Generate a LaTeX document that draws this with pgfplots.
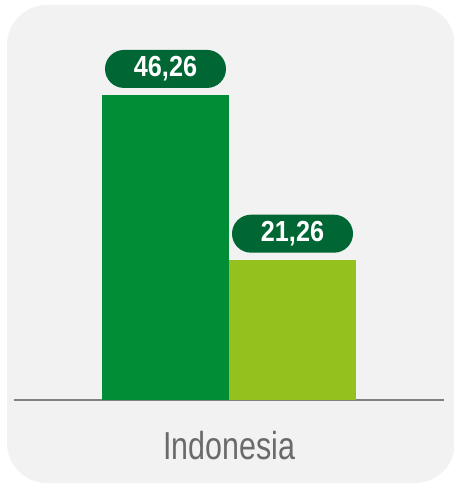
\documentclass[border=0pt]{standalone}
\usepackage{pgfplots}
\pgfplotsset{compat=1.18}
\usepackage{fontspec}
\setmainfont{Liberation Sans}
\newfontfamily\numfont{Liberation Sans}[FakeStretch=0.87]
\newfontfamily\labfont{Liberation Sans}[FakeStretch=0.78]
\definecolor{bg}{HTML}{F2F2F2}
\definecolor{darkbar}{HTML}{008D36}
\definecolor{lightbar}{HTML}{95C11F}
\definecolor{boxgreen}{HTML}{006633}
\definecolor{basegray}{HTML}{808080}
\definecolor{labgray}{HTML}{6A6A6A}
\begin{document}
\begin{tikzpicture}
\useasboundingbox (-14pt,-85pt) rectangle (440pt,400pt);
\fill[bg, rounded corners=40pt] (-7pt,-83pt) rectangle (441pt,395pt);
\begin{axis}[
  at={(0,0)}, anchor=south west,
  scale only axis, width=430pt, height=395.4pt,
  xmin=-1, xmax=1, ymin=0, ymax=60,
  ybar=0pt, bar width=127pt,
  axis y line=none,
  axis x line*=bottom,
  x axis line style={basegray, line width=1.3pt, -},
  xtick={0}, xticklabels={Indonesia},
  major tick length=0pt,
  xticklabel style={font=\labfont\fontsize{39}{39}\selectfont, text=labgray, inner sep=0pt, anchor=north, yshift=-31pt},
  ytick=\empty,
  clip=false,
  nodes near coords={\pgfmathprintnumber[fixed,precision=2,fixed zerofill,use comma,assume math mode=true]{\pgfplotspointmeta}},
  every node near coord/.append style={font=\numfont\bfseries\fontsize{29}{29}\selectfont, text=white, fill=boxgreen, rounded corners=19pt, minimum width=121pt, minimum height=38pt, inner sep=0pt, anchor=south, yshift=7pt},
]
\addplot[fill=darkbar, draw=none] coordinates {(0,46.26)};
\addplot[fill=lightbar, draw=none] coordinates {(0,21.26)};
\end{axis}
\end{tikzpicture}
\end{document}
